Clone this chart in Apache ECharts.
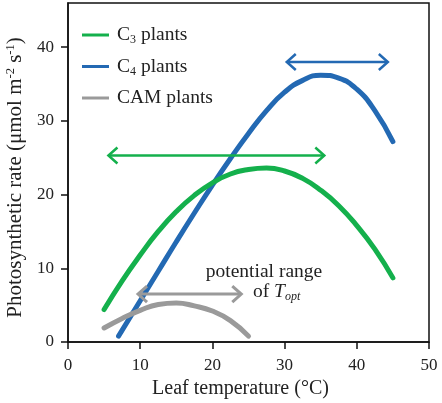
<!DOCTYPE html>
<html>
<head>
<meta charset="utf-8">
<script src="https://cdn.jsdelivr.net/npm/echarts@6/dist/echarts.min.js"></script>
<style>
  html, body { margin: 0; padding: 0; background: #fff; }
  #main { width: 442px; height: 403px; }
</style>
</head>
<body>
<div id="main"></div>
<script>
// temperature (°C) and photosynthetic rate
var c3Temp = [5, 7.5, 10, 12.5, 15, 17.5, 20, 22.5, 25, 27.5, 30, 32.5, 35, 37.5, 40, 42.5, 45];
var c3Rate = [4.4, 8.3, 11.8, 15.0, 17.7, 19.9, 21.6, 22.8, 23.4, 23.6, 23.2, 22.2, 20.6, 18.5, 15.8, 12.6, 8.7];

var c4Temp = [7, 10, 12.5, 15, 17.5, 20, 22.5, 25, 27.5, 30, 32.5, 35, 37.5, 40, 42.5, 45];
var c4Rate = [0.8, 5.6, 9.6, 13.6, 17.5, 21.3, 24.9, 28.3, 31.4, 33.9, 35.5, 36.2, 35.8, 34.3, 31.4, 27.2];

var camTemp = [5, 7.5, 10, 12.5, 15, 17.5, 20, 22.5, 25];
var camRate = [1.9, 3.2, 4.3, 5.1, 5.3, 4.9, 4.2, 2.9, 0.8];

// potential range of T_opt arrows: [from, to, rate]
var c3Range = [5.6, 35.5, 25.3];
var c4Range = [30.3, 44.3, 38.0];
var camRange = [9.7, 24.0, 6.5];

var xTicks = [0, 10, 20, 30, 40, 50];
var yTicks = [0, 10, 20, 30, 40];

var GREEN = '#14b04c', BLUE = '#2369b3', GREY = '#9a9a9a';
var SERIF = '"Liberation Serif", "DejaVu Serif", serif';

function pairs(xs, ys) {
    return xs.map(function (x, i) { return [x, ys[i]]; });
}

var arrowColors = [GREEN, BLUE, GREY];

function renderArrow(params, api) {
    var a = api.coord([api.value(0), api.value(2)]);
    var b = api.coord([api.value(1), api.value(2)]);
    var c = arrowColors[params.dataIndex];
    var w = params.dataIndex === 2 ? 3 : 2.5;
    var h = 8, d = 9;
    var st = { stroke: c, lineWidth: w, fill: null };
    return {
        type: 'group',
        children: [
            { type: 'line', shape: { x1: a[0] + 1, y1: a[1], x2: b[0] - 1, y2: b[1] }, style: st },
            { type: 'polyline', shape: { points: [[a[0] + d, a[1] - h], [a[0], a[1]], [a[0] + d, a[1] + h]] }, style: st },
            { type: 'polyline', shape: { points: [[b[0] - d, b[1] - h], [b[0], b[1]], [b[0] - d, b[1] + h]] }, style: st }
        ]
    };
}

var legendNames = {
    'C3 plants': '{t|C}{s|3}{t| plants}',
    'C4 plants': '{t|C}{s|4}{t| plants}',
    'CAM plants': '{t|CAM plants}'
};

var myChart = echarts.init(document.getElementById('main'));
var option = {
    animation: false,
    textStyle: { fontFamily: SERIF },
    grid: {
        left: 68, right: 13, top: 3, bottom: 61,
        outerBoundsMode: 'none', containLabel: false,
        show: true, borderColor: '#111', borderWidth: 1.5
    },
    legend: {
        left: 77, top: 20, orient: 'vertical',
        icon: 'rect', itemWidth: 27, itemHeight: 3, itemGap: 10.5,
        data: ['C3 plants', 'C4 plants', 'CAM plants'],
        formatter: function (name) { return legendNames[name]; },
        textStyle: {
            padding: [0, 0, 0, 3],
            rich: {
                t: { fontFamily: SERIF, fontSize: 19.5, color: '#222', lineHeight: 22 },
                s: { fontFamily: SERIF, fontSize: 12, color: '#222', verticalAlign: 'bottom', lineHeight: 13 }
            }
        }
    },
    xAxis: {
        type: 'value', min: 0, max: 50, interval: 10,
        name: 'Leaf temperature (°C)', nameLocation: 'middle', nameGap: 35,
        nameTextStyle: { fontFamily: SERIF, fontSize: 20, color: '#222', padding: [0, 16, 0, 0] },
        axisLine: { lineStyle: { color: '#111', width: 1.5 } },
        axisTick: { inside: false, length: 7, lineStyle: { color: '#111', width: 1.5 }, customValues: xTicks },
        axisLabel: { margin: 15, fontFamily: SERIF, fontSize: 17, color: '#222', customValues: xTicks },
        splitLine: { show: false }
    },
    yAxis: {
        type: 'value', min: 0, max: 46, interval: 10,
        name: '{t|Photosynthetic rate (μmol m}{p|-2}{t| s}{p|-1}{t|)}',
        nameLocation: 'middle', nameGap: 42,
        nameTextStyle: {
            padding: [0, 10, 0, 0],
            rich: {
                t: { fontFamily: SERIF, fontSize: 21, color: '#222', lineHeight: 22 },
                p: { fontFamily: SERIF, fontSize: 12.5, color: '#222', verticalAlign: 'top', lineHeight: 14 }
            }
        },
        axisLine: { show: true, lineStyle: { color: '#111', width: 1.5 } },
        axisTick: { show: true, inside: false, length: 7, lineStyle: { color: '#111', width: 1.5 }, customValues: yTicks },
        axisLabel: { margin: 14, fontFamily: SERIF, fontSize: 17, color: '#222', customValues: yTicks },
        splitLine: { show: false }
    },
    series: [
        {
            name: 'C3 plants', type: 'line', smooth: true, symbol: 'none',
            itemStyle: { color: GREEN },
            lineStyle: { color: GREEN, width: 5, cap: 'round' },
            data: pairs(c3Temp, c3Rate), z: 3
        },
        {
            name: 'C4 plants', type: 'line', smooth: true, symbol: 'none',
            itemStyle: { color: BLUE },
            lineStyle: { color: BLUE, width: 5, cap: 'round' },
            data: pairs(c4Temp, c4Rate), z: 2
        },
        {
            name: 'CAM plants', type: 'line', smooth: true, symbol: 'none',
            itemStyle: { color: GREY },
            lineStyle: { color: GREY, width: 5, cap: 'round' },
            data: pairs(camTemp, camRate), z: 2
        },
        {
            type: 'custom', renderItem: renderArrow, z: 4,
            data: [c3Range, c4Range, camRange]
        }
    ],
    graphic: [
        {
            type: 'text', x: 264, y: 272,
            style: {
                text: 'potential range', font: '19.5px ' + SERIF, fill: '#222',
                align: 'center', verticalAlign: 'middle'
            }
        },
        {
            type: 'text', x: 253, y: 292,
            style: {
                text: '{t|of }{i|T}{o|opt}',
                align: 'left', verticalAlign: 'middle',
                rich: {
                    t: { font: '19.5px ' + SERIF, fill: '#222', lineHeight: 22 },
                    i: { font: 'italic 19.5px ' + SERIF, fill: '#222', lineHeight: 22 },
                    o: { font: 'italic 12px ' + SERIF, fill: '#222', verticalAlign: 'bottom', lineHeight: 13 }
                }
            }
        }
    ]
};
myChart.setOption(option);
</script>
</body>
</html>
